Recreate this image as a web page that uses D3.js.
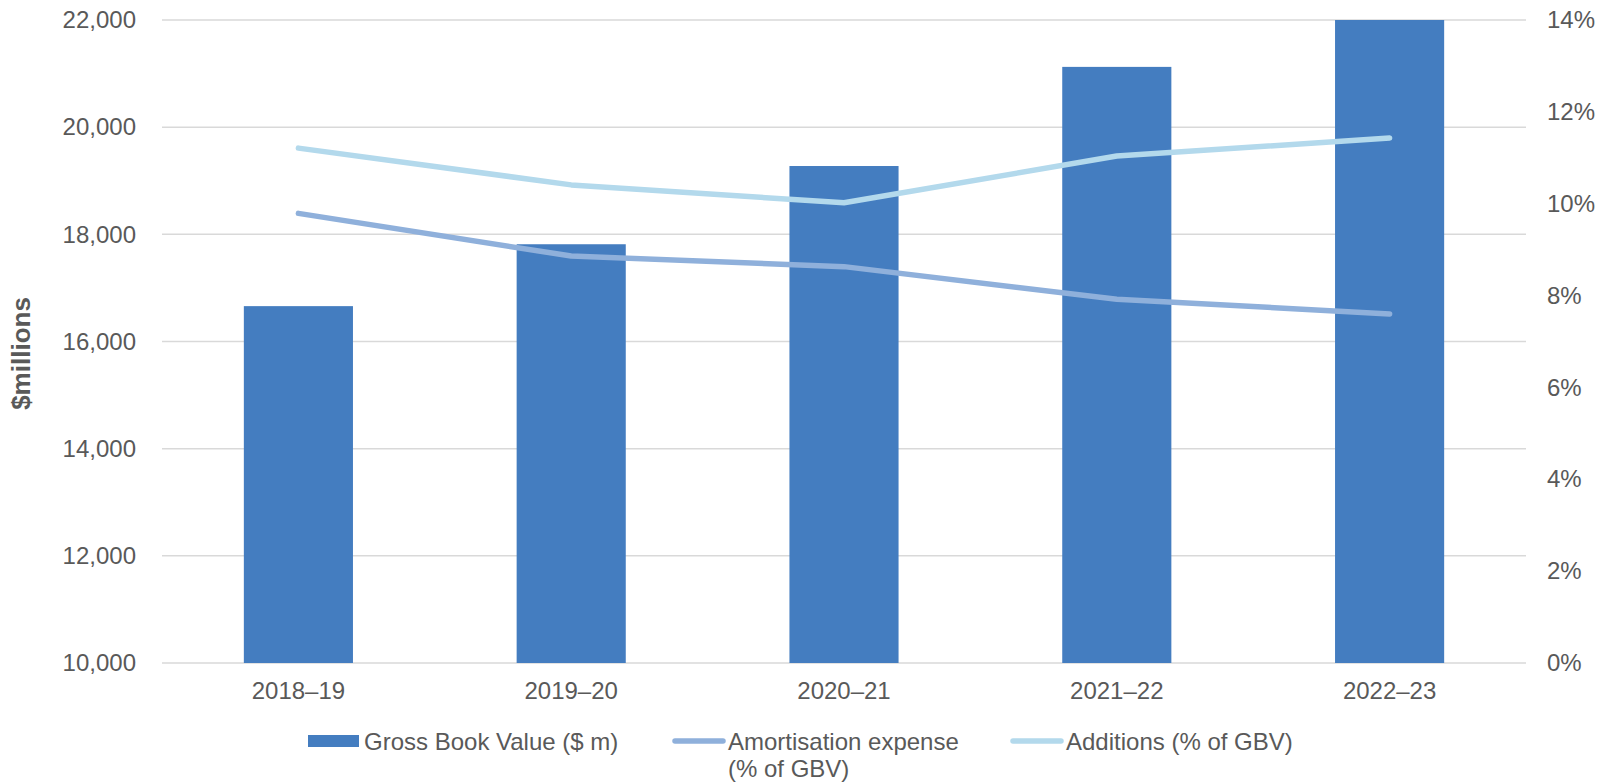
<!DOCTYPE html>
<html>
<head>
<meta charset="utf-8">
<script src="https://cdn.jsdelivr.net/npm/d3@7"></script>
<style>
  html, body { margin: 0; padding: 0; background: #fff; }
  svg { display: block; font-family: Arial, "Liberation Sans", sans-serif; }
</style>
</head>
<body>
<svg id="chart" width="1608" height="784"></svg>
<script>
// Financial years on the category axis
const years = ["2018\u201319", "2019\u201320", "2020\u201321", "2021\u201322", "2022\u201323"];
// Gross Book Value, $ millions (bars, left axis)
const grossBookValue = [16660, 17815, 19275, 21125, 22000];
// Amortisation expense as % of GBV (line, right axis)
const amortisationPct = [9.79, 8.86, 8.63, 7.92, 7.60];
// Additions as % of GBV (line, right axis)
const additionsPct = [11.21, 10.41, 10.02, 11.04, 11.43];
// Axis ticks
const leftTicks = [10000, 12000, 14000, 16000, 18000, 20000, 22000];
const rightTicks = [0, 2, 4, 6, 8, 10, 12, 14];

const legendItems = [
  { label: ["Gross Book Value ($ m)"], type: "bar", color: "#447DC0" },
  { label: ["Amortisation expense", "(% of GBV)"], type: "line", color: "#8FB0DB" },
  { label: ["Additions (% of GBV)"], type: "line", color: "#B3D9EC" }
];

const svg = d3.select("#chart");
const plot = { left: 162, right: 1526, top: 20, bottom: 663 };
const textColor = "#595959";
const fontSize = "24px";

const x = d3.scaleBand().domain(years).range([plot.left, plot.right]).padding(0);
const yLeft = d3.scaleLinear().domain([10000, 22000]).range([plot.bottom, plot.top]);
const yRight = d3.scaleLinear().domain([0, 14]).range([plot.bottom, plot.top]);
const barWidth = x.bandwidth() * 0.4;

// Gridlines
svg.append("g")
  .selectAll("line")
  .data(leftTicks)
  .join("line")
  .attr("x1", plot.left).attr("x2", plot.right)
  .attr("y1", d => yLeft(d)).attr("y2", d => yLeft(d))
  .attr("stroke", "#d9d9d9").attr("stroke-width", 1.5);

// Left axis
const leftAxis = svg.append("g")
  .attr("transform", `translate(${plot.left},0)`)
  .call(d3.axisLeft(yLeft).tickValues(leftTicks).tickFormat(d3.format(",")).tickSize(0).tickPadding(26));
leftAxis.select(".domain").remove();
leftAxis.selectAll("text").attr("fill", textColor).style("font-size", fontSize);

// Right axis
const rightAxis = svg.append("g")
  .attr("transform", `translate(${plot.right},0)`)
  .call(d3.axisRight(yRight).tickValues(rightTicks).tickFormat(d => d + "%").tickSize(0).tickPadding(21));
rightAxis.select(".domain").remove();
rightAxis.selectAll("text").attr("fill", textColor).style("font-size", fontSize);

// Category axis
const bottomAxis = svg.append("g")
  .attr("transform", `translate(0,${plot.bottom})`)
  .call(d3.axisBottom(x).tickSize(0).tickPadding(19));
bottomAxis.select(".domain").remove();
bottomAxis.selectAll("text").attr("fill", textColor).style("font-size", fontSize);

// Y axis title
svg.append("text")
  .attr("transform", `translate(30,${(plot.top + plot.bottom) / 2 + 12}) rotate(-90)`)
  .attr("text-anchor", "middle")
  .attr("fill", textColor)
  .style("font-size", "26px").style("font-weight", "bold")
  .text("$millions");

// Bars
svg.append("g")
  .selectAll("rect")
  .data(years.map((yr, i) => ({ yr, v: grossBookValue[i] })))
  .join("rect")
  .attr("x", d => x(d.yr) + x.bandwidth() / 2 - barWidth / 2)
  .attr("width", barWidth)
  .attr("y", d => yLeft(d.v))
  .attr("height", d => yLeft(10000) - yLeft(d.v))
  .attr("fill", "#447DC0");

// Lines
const line = d3.line()
  .x(d => x(d.yr) + x.bandwidth() / 2)
  .y(d => yRight(d.v));

[[amortisationPct, "#8FB0DB"], [additionsPct, "#B3D9EC"]].forEach(([vals, col]) => {
  svg.append("path")
    .datum(years.map((yr, i) => ({ yr, v: vals[i] })))
    .attr("d", line)
    .attr("fill", "none")
    .attr("stroke", col)
    .attr("stroke-width", 5.5)
    .attr("stroke-linecap", "round")
    .attr("stroke-linejoin", "round");
});

// Legend
const legendX = [308, 672, 1010];
const legend = svg.append("g");
legendItems.forEach((item, i) => {
  const g = legend.append("g").attr("transform", `translate(${legendX[i]},0)`);
  if (item.type === "bar") {
    g.append("rect").attr("x", 0).attr("y", 735).attr("width", 51).attr("height", 12).attr("fill", item.color);
  } else {
    g.append("line").attr("x1", 3).attr("x2", 51).attr("y1", 741).attr("y2", 741)
      .attr("stroke", item.color).attr("stroke-width", 5.5).attr("stroke-linecap", "round");
  }
  item.label.forEach((t, j) => {
    g.append("text")
      .attr("x", 56).attr("y", 750 + j * 27)
      .attr("fill", textColor)
      .style("font-size", fontSize)
      .text(t);
  });
});
</script>
</body>
</html>
